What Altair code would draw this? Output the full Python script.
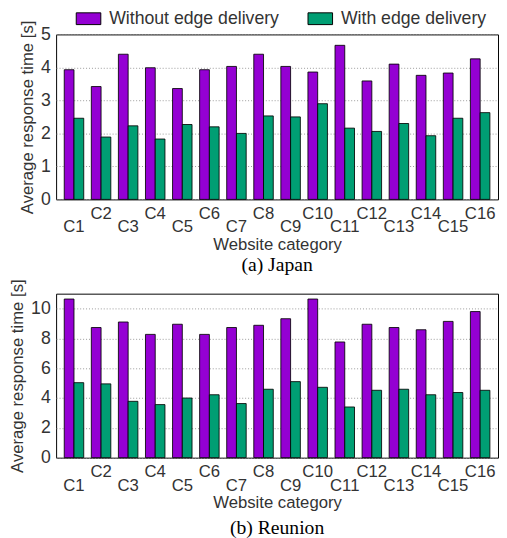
import altair as alt
import pandas as pd

categories = ["C1", "C2", "C3", "C4", "C5", "C6", "C7", "C8",
              "C9", "C10", "C11", "C12", "C13", "C14", "C15", "C16"]
series = ["Without edge delivery", "With edge delivery"]
colors = ["#9400D3", "#009E73"]

japan_without = [3.93, 3.42, 4.40, 3.99, 3.36, 3.93, 4.03, 4.40,
                 4.03, 3.86, 4.67, 3.59, 4.10, 3.76, 3.83, 4.26]
japan_with = [2.46, 1.89, 2.23, 1.83, 2.27, 2.20, 2.00, 2.53,
              2.50, 2.90, 2.16, 2.06, 2.30, 1.93, 2.46, 2.63]
reunion_without = [10.64, 8.73, 9.10, 8.27, 8.95, 8.27, 8.73, 8.88,
                   9.32, 10.64, 7.76, 8.95, 8.73, 8.58, 9.14, 9.80]
reunion_with = [5.03, 4.95, 3.78, 3.56, 4.00, 4.22, 3.63, 4.59,
                5.10, 4.72, 3.40, 4.52, 4.59, 4.22, 4.37, 4.52]

FONT = "Liberation Sans"
TXT = "#333333"


def panel(without, with_, ymax, yticks, caption, height, show_legend, cap_offset):
    df = pd.DataFrame({
        "category": categories * 2,
        "series": [series[0]] * len(categories) + [series[1]] * len(categories),
        "value": list(without) + list(with_),
    })
    if show_legend:
        legend = alt.Legend(
            orient="none", legendX=20, legendY=-29, direction="horizontal",
            title=None, symbolType="M-1,-0.48H1V0.48H-1Z", symbolSize=625,
            symbolStrokeColor="black", symbolStrokeWidth=1, symbolOpacity=1,
            labelFont=FONT, labelFontSize=18, labelColor=TXT, padding=0,
            labelOffset=8, columnPadding=26, labelLimit=300,
        )
    else:
        legend = None
    return alt.Chart(df).mark_bar(stroke="black", strokeWidth=1, strokeOpacity=0.85).encode(
        x=alt.X("category:N", sort=categories,
                scale=alt.Scale(paddingInner=0.28, paddingOuter=0.3),
                axis=alt.Axis(title="Website category", labelAngle=0, ticks=False,
                              domain=False, labelFont=FONT, labelFontSize=17,
                              labelColor=TXT, labelPadding=6, labelLineHeight=14,
                              labelExpr="toNumber(substring(datum.value, 1)) % 2 == 1 ? ['', datum.value] : datum.value",
                              titleFont=FONT, titleFontSize=17, titleFontWeight="normal",
                              titleColor=TXT, titlePadding=2)),
        xOffset=alt.XOffset("series:N", sort=series),
        y=alt.Y("value:Q", scale=alt.Scale(domain=[0, ymax], nice=False),
                axis=alt.Axis(title="Average response time [s]", values=yticks,
                              ticks=False, domain=False, labelFont=FONT,
                              labelFontSize=18, labelColor=TXT, labelPadding=6,
                              grid=True, gridDash=[1, 2], gridColor="#999999",
                              titleFont=FONT, titleFontSize=17,
                              titleFontWeight="normal", titleColor=TXT,
                              titlePadding=4)),
        color=alt.Color("series:N", sort=series,
                        scale=alt.Scale(domain=series, range=colors),
                        legend=legend),
    ).properties(
        width=450, height=height,
        title=alt.TitleParams(caption, orient="bottom", font="Liberation Serif",
                              fontSize=20, fontWeight="normal", color="black",
                              offset=cap_offset, anchor="middle"),
    )


top = panel(japan_without, japan_with, 5, [0, 1, 2, 3, 4, 5], "(a) Japan", 168, True, 3)
bottom = panel(reunion_without, reunion_with, 11, [0, 2, 4, 6, 8, 10], "(b) Reunion", 167, False, 8)

chart = alt.vconcat(top, bottom, spacing=96, bounds="flush").resolve_scale(
    color="independent"
).properties(
    padding={"left": 0, "top": -8, "right": 0, "bottom": 0}
).configure_view(stroke="black", strokeWidth=1)

chart.save("out.html", embed_options={"renderer": "svg", "actions": False})
